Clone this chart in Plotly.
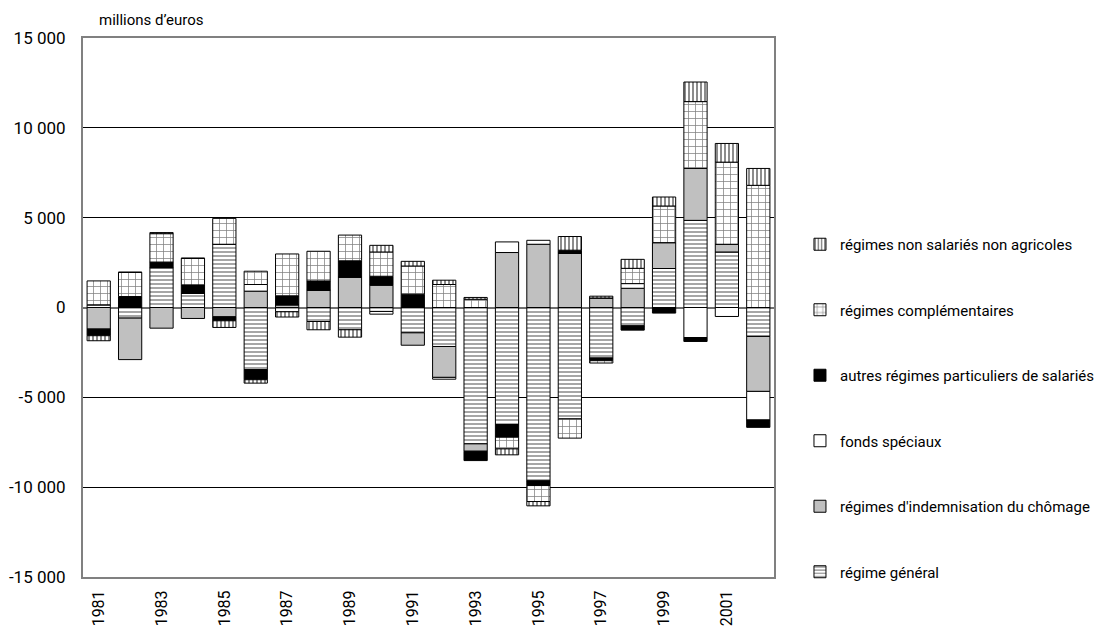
import plotly.graph_objects as go

years = list(range(1981, 2003))

regime_general = [150, -590, 2220, 780, 3520, -3460, -240, -780, -1240, -220, -1410, -2170,
                  -7590, -6520, -9650, -6200, -2810, -1020, 2170, 4850, 3090, -1610]
chomage = [-1200, -2310, -1150, -610, -520, 910, 150, 960, 1690, 1240, -690, -1720,
           -410, 3060, 3520, 3020, 530, 1070, 1440, 2890, 430, -3060]
fonds_speciaux = [0, 0, 0, 0, 0, 370, 0, 0, 0, -150, 0, -100,
                  0, 590, 220, 0, 0, 260, 0, -1670, -500, -1590]
autres_regimes = [-370, 610, 310, 480, -220, -560, 500, 520, 910, 500, 740, 0,
                  -520, -700, -260, 170, -150, -240, -310, -220, 0, -410]
complementaires = [1330, 1350, 1580, 1480, 1440, 740, 2330, 1650, 1430, 1350, 1570, 1280,
                   460, -650, -890, -1070, -130, 850, 2040, 3720, 4570, 6800]
non_salaries = [-280, 0, 60, 0, -370, -190, -290, -460, -410, 370, 260, 240,
                100, -330, -240, 760, 100, 500, 500, 1090, 1040, 940]

series_names = ["régime général", "régimes d'indemnisation du chômage", "fonds spéciaux",
                "autres régimes particuliers de salariés", "régimes complémentaires",
                "régimes non salariés non agricoles"]

y_tickvals = [-15000, -10000, -5000, 0, 5000, 10000, 15000]
y_ticktext = ["-15 000", "-10 000", "-5 000", "0", "5 000", "10 000", "15 000"]
x_tickvals = list(range(1981, 2002, 2))

FONT = "Roboto, Liberation Sans, sans-serif"

styles = [
    dict(color="white", pattern=dict(shape="-", fgcolor="black", bgcolor="white", size=4, solidity=0.35)),
    dict(color="#C0C0C0"),
    dict(color="white"),
    dict(color="black"),
    dict(color="white", pattern=dict(shape="+", fgcolor="black", bgcolor="white", size=7, solidity=0.2)),
    dict(color="white", pattern=dict(shape="|", fgcolor="black", bgcolor="white", size=4, solidity=0.45)),
]

data = [regime_general, chomage, fonds_speciaux, autres_regimes, complementaires, non_salaries]

fig = go.Figure()
for i, (name, vals, st) in enumerate(zip(series_names, data, styles)):
    marker = dict(color=st["color"], line=dict(color="black", width=1))
    if "pattern" in st:
        marker["pattern"] = st["pattern"]
    fig.add_trace(go.Bar(x=years, y=vals, name=name, marker=marker, width=0.74,
                         legendgroup=f"g{i}", legendrank=100 - i))

fig.update_layout(
    barmode="relative",
    width=1120, height=633,
    margin=dict(l=75, r=354, t=30, b=64, autoexpand=False),
    paper_bgcolor="white", plot_bgcolor="white",
    font=dict(family=FONT, size=15, color="black"),
    showlegend=True,
    legend=dict(traceorder="grouped", tracegroupgap=43, x=1.0376, xanchor="left",
                y=0.6475, yanchor="top", font=dict(size=15, family=FONT),
                itemwidth=30, bgcolor="rgba(0,0,0,0)"),
    annotations=[dict(text="millions d’euros", xref="paper", yref="paper", x=0.02, y=1.0,
                      xanchor="left", yanchor="bottom", yshift=7, showarrow=False,
                      font=dict(size=15, family=FONT))],
)
fig.update_yaxes(range=[-15000, 15000], tickvals=y_tickvals, ticktext=y_ticktext,
                 showgrid=True, gridcolor="black", gridwidth=1,
                 zeroline=True, zerolinecolor="#707070", zerolinewidth=2,
                 showline=True, linecolor="#808080", linewidth=2, mirror=True,
                 ticks="", tickfont=dict(size=17), ticklabelstandoff=12, automargin=False)
fig.update_xaxes(range=[1980.5, 2002.5], tickvals=x_tickvals, ticktext=[str(v) for v in x_tickvals],
                 tickangle=-90, showgrid=False, zeroline=False,
                 showline=True, linecolor="#808080", linewidth=2, mirror=True,
                 ticks="", tickfont=dict(size=16), ticklabelstandoff=5, automargin=False)

fig.write_html("out.html")
